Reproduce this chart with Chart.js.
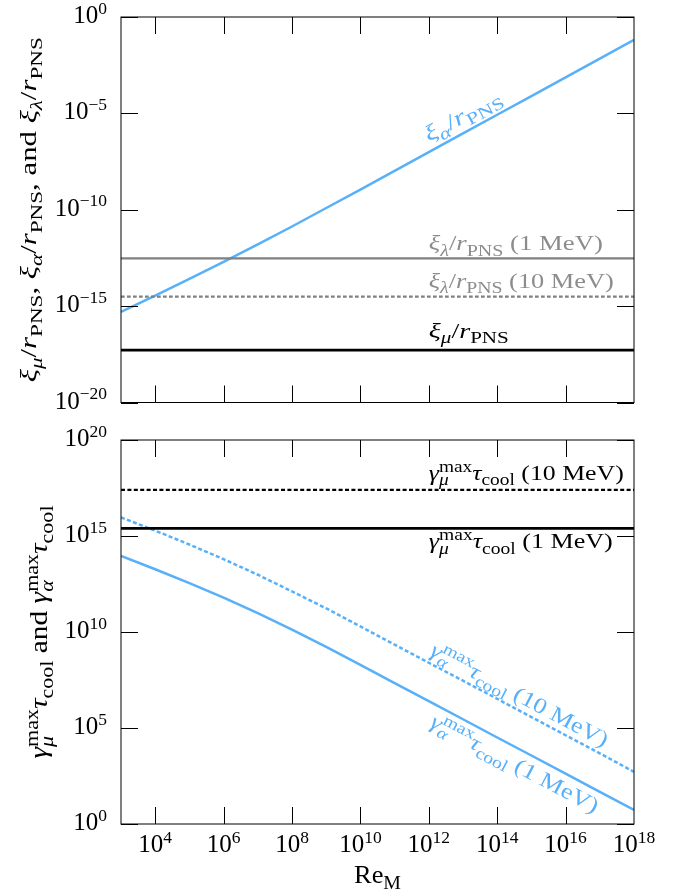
<!DOCTYPE html>
<html>
<head>
<meta charset="utf-8">
<script src="https://cdn.jsdelivr.net/npm/chart.js@4.4.1/dist/chart.umd.min.js"></script>
<style>
  html, body { margin: 0; padding: 0; background: #fff; }
  #wrap { position: relative; width: 689px; height: 895px; }
  canvas { position: absolute; left: 0; }
  #topChart { top: 0; }
  #bottomChart { top: 420px; }
</style>
</head>
<body>
<div id="wrap">
  <canvas id="topChart" width="689" height="420"></canvas>
  <canvas id="bottomChart" width="689" height="475"></canvas>
</div>
<script>
const FONT = '"Liberation Serif", "DejaVu Serif", serif';
const BLUE = '#58b0f8';
const GRAY = '#808080';
const TICK = 17;

// x axis: magnetic Reynolds number
const reM = [1e3, 1e4, 1e5, 1e6, 1e7, 1e8, 1e9, 1e10, 1e11, 1e12, 1e13, 1e14, 1e15, 1e16, 1e17, 1e18];

// top panel values
const xiAlpha = [5.1e-16, 3.5e-15, 2.6e-14, 2.0e-13, 1.6e-12, 1.35e-11, 1.23e-10, 1.12e-9,
                 1.05e-8, 9.8e-8, 9.1e-7, 8.5e-6, 7.9e-5, 7.4e-4, 6.9e-3, 6.5e-2];
const xiLambda1MeV = 3.0e-13;
const xiLambda10MeV = 3.1e-15;
const xiMu = 5.2e-18;

// bottom panel values
const gammaAlpha1MeV = [9.1e13, 1.86e13, 3.55e12, 6.2e11, 9.5e10, 1.32e10, 1.66e9, 1.95e8,
                        2.2e7, 2.5e6, 2.85e5, 3.2e4, 3.7e3, 4.2e2, 47, 5.4];
const gammaAlpha10MeV = [9.3e15, 1.9e15, 3.6e14, 6.2e13, 9.6e12, 1.3e12, 1.7e11, 1.95e10,
                         2.2e9, 2.5e8, 2.9e7, 3.3e6, 3.7e5, 4.2e4, 4.8e3, 5.2e2];
const gammaMu1MeV = 2.5e15;
const gammaMu10MeV = 2.5e17;

// axes
const xRange = [1e3, 1e18];
const xTickMarks = [1e4, 1e6, 1e8, 1e10, 1e12, 1e14, 1e16];
const xTickLabels = [1e4, 1e6, 1e8, 1e10, 1e12, 1e14, 1e16, 1e18];
const topYRange = [1e-20, 1];
const topYTicks = [1, 1e-5, 1e-10, 1e-15, 1e-20];
const bottomYRange = [1, 1e20];
const bottomYTicks = [1, 1e5, 1e10, 1e15, 1e20];

// runs: [text, flags]  i = italic, b = subscript, p = superscript, k = stack on previous run
function layoutRuns(ctx, runs, size, ratio) {
    const items = [];
    let x = 0, prevStart = 0;
    runs.forEach(([t, f = '']) => {
        const small = f.includes('b') || f.includes('p');
        const sz = small ? size * ratio : size;
        const font = (f.includes('i') ? 'italic ' : '') + sz + 'px ' + FONT;
        ctx.font = font;
        const w = ctx.measureText(t).width;
        const start = f.includes('k') ? prevStart : x;
        const dy = f.includes('b') ? size * 0.24 : f.includes('p') ? -size * 0.38 : 0;
        items.push({ t, font, x: start, dy });
        prevStart = start;
        x = Math.max(x, start + w);
    });
    return { items, width: x };
}

function drawRich(ctx, runs, x, y, size, o = {}) {
    ctx.save();
    const { items, width } = layoutRuns(ctx, runs, size, o.ratio || 0.75);
    ctx.translate(x, y);
    if (o.angle) ctx.rotate(o.angle);
    if (o.fit) ctx.scale(o.fit / width, 1);
    let off = 0;
    if (o.align === 'center') off = -width / 2;
    if (o.align === 'right') off = -width;
    ctx.fillStyle = o.color || '#000';
    ctx.textBaseline = 'alphabetic';
    ctx.textAlign = 'left';
    items.forEach(it => {
        ctx.font = it.font;
        ctx.fillText(it.t, off + it.x, it.dy);
    });
    ctx.restore();
}

function powerRuns(v) {
    const e = Math.round(Math.log10(v));
    return [['10'], [(e < 0 ? '\u2212' : '') + Math.abs(e), 'p']];
}

const rPNS = [['/'], ['r', 'i'], ['PNS', 'b']];

function panelDecor(opts) {
    return {
        id: 'decor',
        afterDraw(chart) {
            const ctx = chart.ctx;
            const a = chart.chartArea;
            const xs = chart.scales.x, ys = chart.scales.y;
            ctx.save();
            ctx.strokeStyle = '#000';
            ctx.lineWidth = 1;
            ctx.strokeRect(a.left, a.top, a.right - a.left, a.bottom - a.top);
            ctx.beginPath();
            xTickMarks.forEach(v => {
                const p = Math.round(xs.getPixelForValue(v)) + 0.5;
                ctx.moveTo(p, a.bottom); ctx.lineTo(p, a.bottom - TICK);
                ctx.moveTo(p, a.top); ctx.lineTo(p, a.top + TICK);
            });
            opts.yTicks.forEach(v => {
                const p = Math.round(ys.getPixelForValue(v)) + 0.5;
                ctx.moveTo(a.left, p); ctx.lineTo(a.left + TICK, p);
                ctx.moveTo(a.right, p); ctx.lineTo(a.right - TICK, p);
            });
            ctx.stroke();

            opts.yTicks.forEach(v => {
                drawRich(ctx, powerRuns(v), a.left - 14, ys.getPixelForValue(v) + 6, 25, { align: 'right', ratio: 0.7 });
            });
            if (opts.xLabels) {
                xTickLabels.forEach(v => {
                    drawRich(ctx, powerRuns(v), xs.getPixelForValue(v), a.bottom + 28, 25, { align: 'center', ratio: 0.7 });
                });
            }
            opts.texts.forEach(t => {
                const p = t.at(xs, ys, a);
                drawRich(ctx, t.runs, p[0], p[1], t.size, { color: t.color, align: t.align, angle: t.angle, fit: t.fit });
            });
            ctx.restore();
        }
    };
}

function lineSet(xVals, yVals, color, width, dash) {
    return {
        data: xVals.map((x, i) => ({ x, y: yVals[i] })),
        borderColor: color,
        borderWidth: width,
        borderDash: dash || [],
        pointRadius: 0,
        fill: false,
        tension: 0
    };
}

function flatSet(value, color, width, dash) {
    return lineSet(xRange, [value, value], color, width, dash);
}

function baseOptions(yRange, padding) {
    return {
        responsive: false,
        animation: false,
        layout: { padding },
        plugins: { legend: { display: false }, tooltip: { enabled: false } },
        scales: {
            x: { type: 'logarithmic', min: xRange[0], max: xRange[1], display: false },
            y: { type: 'logarithmic', min: yRange[0], max: yRange[1], display: false }
        }
    };
}

const topTexts = [
    { runs: [['\u03be', 'i'], ['\u03bc', 'ib'], ...rPNS, [', '], ['\u03be', 'i'], ['\u03b1', 'ib'], ...rPNS,
             [', and '], ['\u03be', 'i'], ['\u03bb', 'ib'], ...rPNS],
      size: 23, align: 'center', angle: -Math.PI / 2, fit: 345,
      at: (xs, ys, a) => [36, (a.top + a.bottom) / 2] },
    { runs: [['\u03be', 'i'], ['\u03b1', 'ib'], ...rPNS], size: 22, color: BLUE, angle: -0.499, fit: 85,
      at: (xs, ys) => [xs.getPixelForValue(1e12), ys.getPixelForValue(xiAlpha[9]) - 10] },
    { runs: [['\u03be', 'i'], ['\u03bb', 'ib'], ...rPNS, [' (1 MeV)']], size: 22, color: '#8c8c8c', fit: 174,
      at: (xs, ys) => [xs.getPixelForValue(1e12), ys.getPixelForValue(xiLambda1MeV) - 8] },
    { runs: [['\u03be', 'i'], ['\u03bb', 'ib'], ...rPNS, [' (10 MeV)']], size: 22, color: '#8c8c8c', fit: 185,
      at: (xs, ys) => [xs.getPixelForValue(1e12), ys.getPixelForValue(xiLambda10MeV) - 8.5] },
    { runs: [['\u03be', 'i'], ['\u03bc', 'ib'], ...rPNS], size: 22, fit: 80,
      at: (xs, ys) => [xs.getPixelForValue(1e12), ys.getPixelForValue(xiMu) - 12] }
];

const gMu = [['\u03b3', 'i'], ['max', 'p'], ['\u03bc', 'ibk'], ['\u03c4', 'i'], ['cool', 'b']];
const gAlpha = [['\u03b3', 'i'], ['max', 'p'], ['\u03b1', 'ibk'], ['\u03c4', 'i'], ['cool', 'b']];

const bottomTexts = [
    { runs: [...gMu, [' and '], ...gAlpha], size: 25, align: 'center', angle: -Math.PI / 2, fit: 253,
      at: (xs, ys, a) => [47, (a.top + a.bottom) / 2] },
    { runs: [['Re'], ['M', 'b']], size: 25, align: 'center', fit: 47,
      at: (xs, ys, a) => [(a.left + a.right) / 2, a.bottom + 59] },
    { runs: [...gMu, [' (10 MeV)']], size: 22, fit: 195,
      at: (xs, ys) => [xs.getPixelForValue(1e12), ys.getPixelForValue(gammaMu10MeV) - 10] },
    { runs: [...gMu, [' (1 MeV)']], size: 22, fit: 184,
      at: (xs, ys) => [xs.getPixelForValue(1e12), ys.getPixelForValue(gammaMu1MeV) + 20] },
    { runs: [...gAlpha, [' (10 MeV)']], size: 22, color: BLUE, angle: 0.487, fit: 198,
      at: (xs, ys) => [xs.getPixelForValue(1e12), ys.getPixelForValue(gammaAlpha10MeV[9]) - 8] },
    { runs: [...gAlpha, [' (1 MeV)']], size: 22, color: BLUE, angle: 0.487, fit: 187,
      at: (xs, ys) => [xs.getPixelForValue(1e12), ys.getPixelForValue(gammaAlpha1MeV[9]) + 25] }
];

function initCharts() {
    new Chart(document.getElementById('topChart'), {
        type: 'line',
        data: {
            datasets: [
                flatSet(xiMu, '#000', 2.8),
                flatSet(xiLambda1MeV, GRAY, 2.4),
                flatSet(xiLambda10MeV, GRAY, 2.3, [3.7, 2.3]),
                lineSet(reM, xiAlpha, BLUE, 2.5)
            ]
        },
        options: baseOptions(topYRange, { left: 121, right: 55, top: 17, bottom: 17.5 }),
        plugins: [panelDecor({ yTicks: topYTicks, xLabels: false, texts: topTexts })]
    });

    new Chart(document.getElementById('bottomChart'), {
        type: 'line',
        data: {
            datasets: [
                flatSet(gammaMu10MeV, '#000', 2.3, [4, 2.4]),
                flatSet(gammaMu1MeV, '#000', 2.8),
                lineSet(reM, gammaAlpha10MeV, BLUE, 2.5, [4, 2.4]),
                lineSet(reM, gammaAlpha1MeV, BLUE, 2.5)
            ]
        },
        options: baseOptions(bottomYRange, { left: 121, right: 55, top: 20, bottom: 71 }),
        plugins: [panelDecor({ yTicks: bottomYTicks, xLabels: true, texts: bottomTexts })]
    });
}

initCharts();
</script>
</body>
</html>
